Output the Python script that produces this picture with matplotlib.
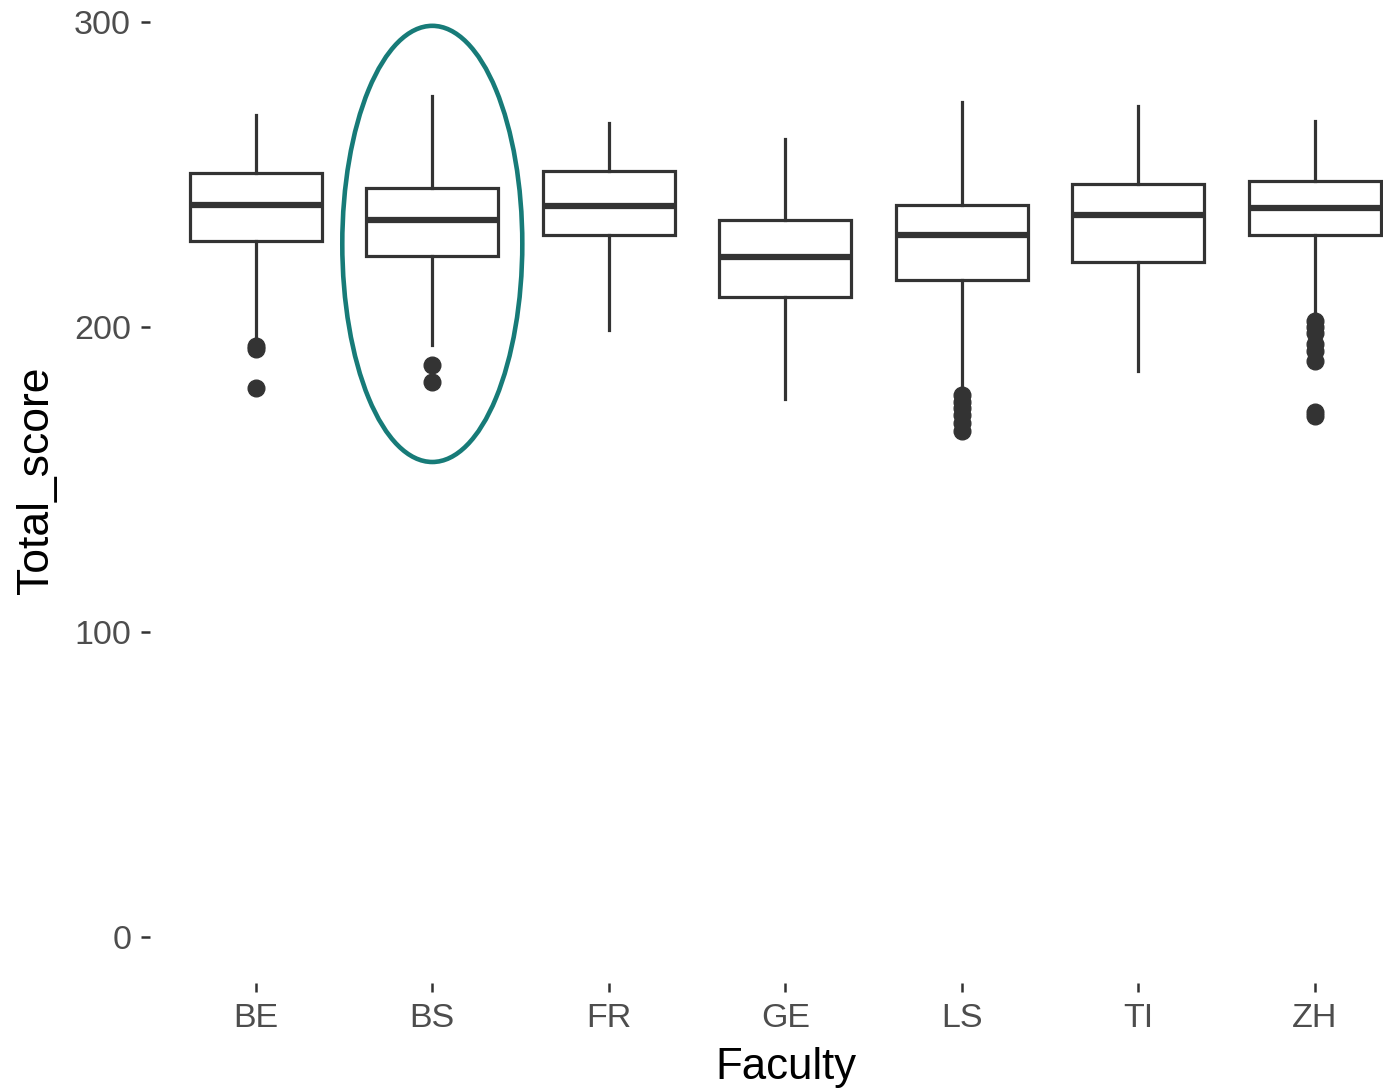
import matplotlib
matplotlib.use("Agg")
import matplotlib.pyplot as plt
from matplotlib.patches import Ellipse

categories = ["BE", "BS", "FR", "GE", "LS", "TI", "ZH"]
whisker_low = [197.0, 194.2, 199.1, 176.4, 179.5, 185.5, 205.1]
q1 = [228.1, 223.2, 230.0, 209.8, 215.3, 221.3, 230.0]
median = [239.9, 235.0, 239.6, 222.9, 230.0, 236.8, 239.0]
q3 = [250.4, 245.5, 251.0, 234.9, 239.8, 246.8, 247.7]
whisker_high = [269.6, 275.6, 266.8, 261.6, 273.6, 272.5, 267.4]
outliers = [
    [193.7, 192.8, 180.0],
    [187.4, 181.9],
    [],
    [],
    [177.6, 175.5, 173.5, 171.0, 168.5, 166.0],
    [],
    [202.0, 200.0, 198.0, 194.5, 192.0, 189.0, 172.0, 170.8],
]
ytick_values = [0, 100, 200, 300]
highlight = "BS"

fig = plt.figure(figsize=(13.83, 10.89), dpi=100)
ax = fig.add_axes([0.1084, 0.0972, 0.9188, 0.9249])

stats = []
for i, c in enumerate(categories):
    stats.append(dict(label=c, med=median[i], q1=q1[i], q3=q3[i],
                      whislo=whisker_low[i], whishi=whisker_high[i],
                      fliers=outliers[i]))

line_c = "#333333"
ax.bxp(stats, positions=range(1, len(categories) + 1), widths=0.75,
       showcaps=False, patch_artist=True,
       boxprops=dict(facecolor="white", edgecolor=line_c, linewidth=2.3),
       medianprops=dict(color=line_c, linewidth=4.5, solid_capstyle="butt"),
       whiskerprops=dict(color=line_c, linewidth=2.3),
       flierprops=dict(marker="o", markerfacecolor=line_c, markeredgecolor=line_c,
                       markersize=12, linestyle="none"))

hi = categories.index(highlight) + 1
ell = Ellipse((hi, 227.2), width=1.02, height=142.9, fill=False,
              edgecolor="#177b78", linewidth=3.3, zorder=5)
ax.add_patch(ell)

ax.set_xlim(0.4, 7.6)
ax.set_ylim(-15, 315)
ax.set_yticks(ytick_values)
ax.set_yticklabels([str(v) for v in ytick_values])
ax.set_xticks(range(1, len(categories) + 1))
ax.set_xticklabels(categories)
for s in ax.spines.values():
    s.set_visible(False)
ax.tick_params(axis="both", colors="#333333", length=6.5, width=1.8,
               labelcolor="#4D4D4D", labelsize=24.5)
ax.tick_params(axis="y", pad=7)
ax.tick_params(axis="x", pad=8)
for lab in ax.get_xticklabels() + ax.get_yticklabels():
    lab.set_fontfamily("Liberation Sans")

fig.text(786 / 1383, 1 - 1079 / 1089, "Faculty", ha="center", va="baseline",
         fontsize=31.5, color="black", family="Liberation Sans")
fig.text(37 / 1383, 1 - 480 / 1089, "Total_score", ha="center", va="center",
         rotation=90, fontsize=32, color="black", family="Liberation Sans")

fig.savefig("out.png", dpi=100)
